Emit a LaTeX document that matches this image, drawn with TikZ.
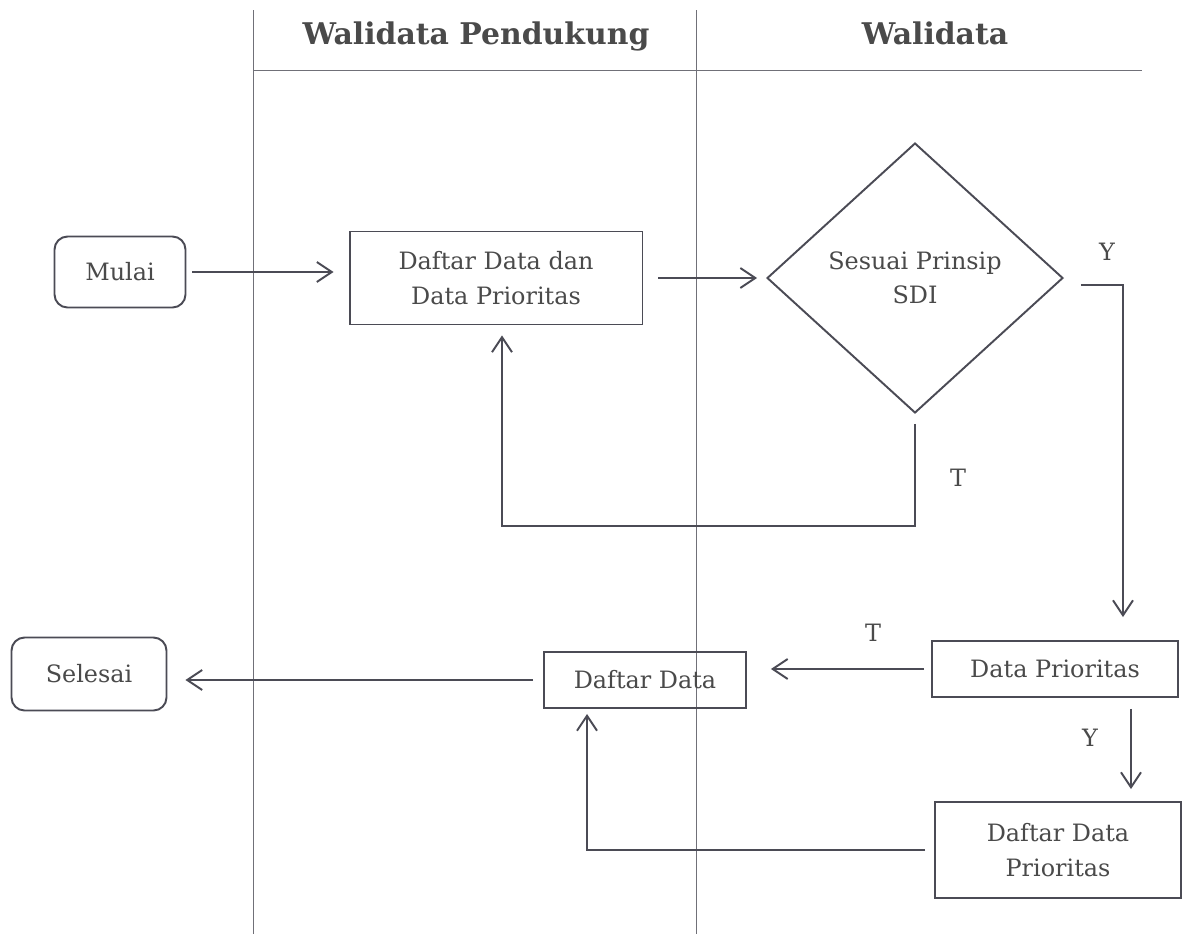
\documentclass[tikz,border=0pt]{standalone}
\usepackage{fontspec}
\setmainfont{DejaVu Serif}
\usetikzlibrary{shapes.geometric,arrows.meta}
\definecolor{ink}{HTML}{4B4B55}
\definecolor{txt}{HTML}{4A4A4A}
\definecolor{lane}{HTML}{707078}

\begin{document}
\begin{tikzpicture}[x=0.02cm,y=-0.02cm,
  every node/.style={text=txt, font=\fontsize{13.6}{19.5}\selectfont, align=center, inner sep=0pt},
  box/.style={draw=ink, line width=1.1pt, rectangle},
  term/.style={box, rounded corners=0.26cm},
  decision/.style={draw=ink, line width=1.1pt, diamond, minimum width=5.92cm, minimum height=5.4cm},
  flow/.style={draw=ink, line width=1.1pt, -{Straight Barb[length=0.3cm,width=0.4cm,line width=1.1pt]}},
  lane/.style={draw=lane, line width=0.5pt},
  head/.style={font=\fontsize{17}{20}\selectfont\bfseries, text=txt, anchor=base}]

% page and its size
\fill[white] (0,0) rectangle (1182,934);
\useasboundingbox (0,0) rectangle (1182,934);

% swimlanes
\draw[lane] (253,10) -- (253,934);
\draw[lane] (696,10) -- (696,934);
\draw[lane] (253,70) -- (1142,70);
\node[head] (h1) at (476,44) {Walidata Pendukung};
\node[head] (h2) at (935,44) {Walidata};

% steps
\node[term, minimum width=2.62cm, minimum height=1.42cm] (mulai) at (120,272) {Mulai};
\node[box, minimum width=5.86cm, minimum height=1.86cm] (dd) at (496,278) {Daftar Data dan\\Data Prioritas};
\node[decision] (sdi) at (915,278) {Sesuai Prinsip\\SDI};
\node[box, minimum width=4.92cm, minimum height=1.12cm] (dp) at (1055,669) {Data Prioritas};
\node[box, minimum width=4.04cm, minimum height=1.12cm] (dft) at (645,680) {Daftar Data};
\node[term, minimum width=3.1cm, minimum height=1.46cm] (selesai) at (89,674) {Selesai};
\node[box, minimum width=4.92cm, minimum height=1.92cm] (ddp) at (1058,850) {Daftar Data\\Prioritas};

% connectors
\draw[flow, shorten <=0.12cm, shorten >=0.3cm] (mulai.east) -- (mulai.east -| dd.west);
\draw[flow, shorten <=0.3cm, shorten >=0.18cm] (dd.east) -- (dd.east -| sdi.west);
\draw[flow] ([xshift=0.34cm,yshift=-0.14cm]sdi.east) -| ([xshift=1.36cm,yshift=0.46cm]dp.north);
\node (ylab1) at (1107,252) {Y};
\draw[flow] ([yshift=-0.2cm]sdi.south) -- ++(0,-2.04cm) -| ([xshift=0.12cm,yshift=-0.2cm]dd.south);
\node (tlab1) at (958,478) {T};
\draw[flow, shorten <=0.14cm, shorten >=0.48cm] (dp.west) -- (dp.west -| dft.east);
\node (tlab2) at (873,633) {T};
\draw[flow, shorten <=0.22cm, shorten >=0.24cm] ([xshift=1.52cm]dp.south) -- ([xshift=1.52cm]dp.south |- ddp.north);
\node (ylab2) at (1090,738) {Y};
\draw[flow, shorten <=0.18cm] (ddp.west) -| ([xshift=-1.16cm,yshift=-0.1cm]dft.south);
\draw[flow, shorten <=0.2cm, shorten >=0.36cm] (dft.west) -- (dft.west -| selesai.east);
\end{tikzpicture}
\end{document}
